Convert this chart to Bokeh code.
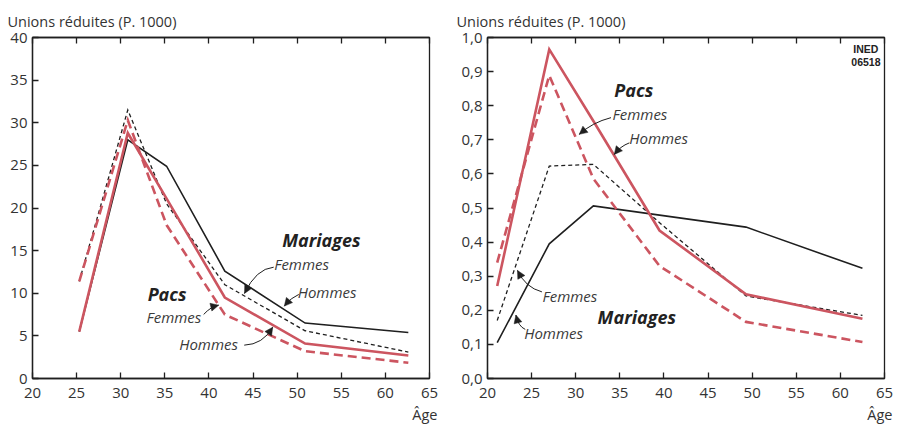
from bokeh.plotting import figure
from bokeh.layouts import row
from bokeh.models import FixedTicker, LinearAxis, Label, Arrow, NormalHead, Title, Range1d
from bokeh.embed import file_html
from bokeh.resources import INLINE

# ---------------- data ----------------
x_ticks = [20, 25, 30, 35, 40, 45, 50, 55, 60, 65]
y_ticks_left = [0, 5, 10, 15, 20, 25, 30, 35, 40]
y_ticks_right = [0.0, 0.1, 0.2, 0.3, 0.4, 0.5, 0.6, 0.7, 0.8, 0.9, 1.0]
y_labels_right = ["0,0", "0,1", "0,2", "0,3", "0,4", "0,5", "0,6", "0,7", "0,8", "0,9", "1,0"]

ages_left = [25.3, 30.8, 35.2, 41.8, 50.9, 62.6]
mariages_hommes_left = [5.5, 28.0, 24.9, 12.6, 6.5, 5.4]
mariages_femmes_left = [11.4, 31.5, 20.5, 11.0, 5.6, 3.1]
pacs_hommes_left = [5.5, 28.8, 21.1, 9.5, 4.1, 2.7]
pacs_femmes_left = [11.4, 30.3, 18.0, 7.5, 3.2, 1.85]

ages_right = [21.1, 27.0, 32.0, 39.5, 49.3, 62.5]
mariages_hommes_right = [0.105, 0.395, 0.506, 0.479, 0.444, 0.323]
mariages_femmes_right = [0.170, 0.623, 0.628, 0.457, 0.242, 0.185]
pacs_hommes_right = [0.271, 0.965, 0.755, 0.434, 0.247, 0.175]
pacs_femmes_right = [0.340, 0.889, 0.586, 0.330, 0.166, 0.107]

y_title = "Unions réduites (P. 1000)"
x_title = "Âge"

# annotation texts: (text, x, y, bold)
notes_left = [
    ("Mariages", 48.3, 16.25, True),
    ("Femmes", 47.4, 13.38, False),
    ("Hommes", 50.06, 10.09, False),
    ("Pacs", 33.05, 9.86, True),
    ("Femmes", 32.93, 7.24, False),
    ("Hommes", 36.63, 3.99, False),
]
notes_right = [
    ("Pacs", 34.37, 0.845, True),
    ("Femmes", 34.18, 0.777, False),
    ("Hommes", 36.07, 0.704, False),
    ("Femmes", 26.24, 0.2416, False),
    ("Mariages", 32.48, 0.181, True),
    ("Hommes", 24.16, 0.132, False),
]
# curved pointers: (start x, start y, control x, control y, end x, end y)
pointers_left = [
    (47.34, 13.06, 45.33, 12.87, 44.03, 9.98),
    (50.18, 9.86, 49.3, 9.5, 48.54, 8.49),
    (39.40, 7.51, 40.22, 8.45, 41.1, 8.6),
    (44.0, 3.91, 46.12, 3.99, 47.23, 6.02),
]
pointers_right = [
    (34.0, 0.765, 31.88, 0.751, 30.4, 0.716),
    (36.08, 0.691, 35.05, 0.681, 34.37, 0.657),
    (26.17, 0.254, 24.28, 0.267, 23.40, 0.317),
    (24.28, 0.144, 23.48, 0.153, 23.22, 0.186),
]

RED = "#cc5560"
BLACK = "#1f1f1f"
TXT = "#333333"
FONT = "Open Sans"


def make_fig(y_end, y_ticks, frame_w, b_left, b_right, title_offset):
    p = figure(frame_width=frame_w, frame_height=341,
               x_range=Range1d(20, 65), y_range=Range1d(0, y_end),
               output_backend="svg", toolbar_location=None,
               min_border_left=b_left, min_border_right=b_right,
               min_border_top=37, min_border_bottom=50,
               background_fill_color="white", border_fill_color="white")
    p.xgrid.visible = False
    p.ygrid.visible = False
    p.outline_line_color = BLACK
    p.outline_line_width = 1.3
    p.outline_line_alpha = 1.0
    for ax in (p.xaxis[0], p.yaxis[0]):
        ax.major_tick_in = 6
        ax.major_tick_out = 0
        ax.minor_tick_in = 0
        ax.minor_tick_out = 0
        ax.axis_line_color = BLACK
        ax.axis_line_width = 1.3
        ax.major_tick_line_color = BLACK
        ax.major_tick_line_width = 1.3
        ax.major_label_text_font = FONT
        ax.major_label_text_font_size = "15px"
        ax.major_label_text_color = TXT
    p.xaxis[0].ticker = FixedTicker(ticks=x_ticks)
    p.xaxis[0].major_label_standoff = 9
    p.yaxis[0].ticker = FixedTicker(ticks=y_ticks)
    p.yaxis[0].major_label_standoff = 5
    top = LinearAxis(ticker=FixedTicker(ticks=x_ticks), major_tick_in=6, major_tick_out=0,
                     minor_tick_in=0, minor_tick_out=0, major_label_text_font_size="0px",
                     major_label_standoff=0, axis_line_color=BLACK, axis_line_width=1.3,
                     major_tick_line_color=BLACK, major_tick_line_width=1.3)
    p.add_layout(top, "above")
    p.title.text = y_title
    p.title.align = "left"
    p.title.offset = title_offset
    p.title.text_font = FONT
    p.title.text_font_size = "14.5px"
    p.title.text_font_style = "normal"
    p.title.text_color = TXT
    p.title.standoff = 14
    p.add_layout(Title(text=x_title, align="right", offset=-8, text_font=FONT,
                       text_font_size="14.5px", text_font_style="normal",
                       text_color=TXT, standoff=4), "below")
    return p


def draw_series(p, ages, mh, mf, ph, pf):
    p.line(ages, mh, line_color=BLACK, line_width=1.6, line_join="miter")
    p.line(ages, mf, line_color=BLACK, line_width=1.3, line_dash="4 3", line_join="miter")
    p.line(ages, ph, line_color=RED, line_width=2.6, line_join="miter")
    p.line(ages, pf, line_color=RED, line_width=2.6, line_dash="9 5", line_join="miter")


def draw_notes(p, notes, pointers):
    for text, x, y, bold in notes:
        p.add_layout(Label(x=x, y=y, text=text, text_font=FONT,
                           text_font_size="18px" if bold else "15px",
                           text_font_style="bold italic" if bold else "italic",
                           text_color="#222222" if bold else "#3a3a3a",
                           text_baseline="middle", text_align="left"))
    for sx, sy, cx, cy, ex, ey in pointers:
        p.quadratic(x0=[sx], y0=[sy], x1=[ex], y1=[ey], cx=[cx], cy=[cy],
                    line_color=BLACK, line_width=1.0)
        t = 0.8
        bx = (1 - t) ** 2 * sx + 2 * (1 - t) * t * cx + t * t * ex
        by = (1 - t) ** 2 * sy + 2 * (1 - t) * t * cy + t * t * ey
        p.add_layout(Arrow(x_start=bx, y_start=by, x_end=ex, y_end=ey,
                           line_alpha=0,
                           end=NormalHead(size=8, fill_color=BLACK, line_color=BLACK,
                                          line_width=0.5)))


p1 = make_fig(40, y_ticks_left, 397, 32, 18, -25)
draw_series(p1, ages_left, mariages_hommes_left, mariages_femmes_left,
            pacs_hommes_left, pacs_femmes_left)
draw_notes(p1, notes_left, pointers_left)

p2 = make_fig(1.0, y_ticks_right, 397, 40, 14, -31)
p2.yaxis[0].major_label_overrides = {v: s for v, s in zip(y_ticks_right, y_labels_right)}
draw_series(p2, ages_right, mariages_hommes_right, mariages_femmes_right,
            pacs_hommes_right, pacs_femmes_right)
draw_notes(p2, notes_right, pointers_right)
p2.add_layout(Label(x=64.3, y=0.966, text="INED", text_font="Liberation Sans",
                    text_font_size="10.5px", text_font_style="bold", text_color="#222222",
                    text_align="right", text_baseline="middle"))
p2.add_layout(Label(x=64.55, y=0.927, text="06518", text_font="Liberation Sans",
                    text_font_size="10.5px", text_font_style="bold", text_color="#222222",
                    text_align="right", text_baseline="middle"))

layout = row(p1, p2)
open("out.html", "w").write(file_html(layout, INLINE))
